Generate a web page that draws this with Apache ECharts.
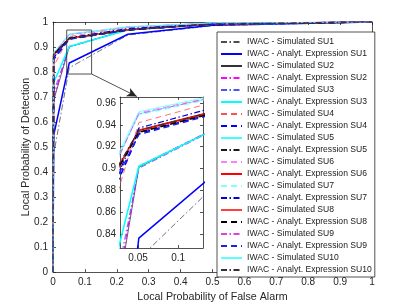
<!DOCTYPE html>
<html><head><meta charset="utf-8">
<script src="https://cdn.jsdelivr.net/npm/echarts@6/dist/echarts.min.js"></script>
<style>html,body{margin:0;padding:0;background:#fff}#c{width:411px;height:308px}</style>
</head><body><div id="c"></div>
<script>
// False alarm probabilities (x) shared by all curves
const pfa = [0, 0.002, 0.051, 0.235, 0.5, 1];
const insetXTicks = [0.05, 0.1];
const insetYTicks = [0.84, 0.86, 0.88, 0.9, 0.92, 0.94, 0.96];
const insetXRange = [0.0275, 0.131];
const insetYRange = [0.827, 0.9655];
// zoom rectangle and arrow (data space of main axes)
const zoomBoxX = [0.043, 0.121, 0.121, 0.043, 0.043];
const zoomBoxY = [0.792, 0.792, 0.968, 0.968, 0.792];
const arrowFrom = [0.121, 0.792];
const arrowTo = [0.263, 0.702];

const seriesNames = [
  'IWAC - Simulated SU1', 'IWAC - Analyt. Expression SU1',
  'IWAC - Simulated SU2', 'IWAC - Analyt. Expression SU2',
  'IWAC - Simulated SU3', 'IWAC - Analyt. Expression SU3',
  'IWAC - Simulated SU4', 'IWAC - Analyt. Expression SU4',
  'IWAC - Simulated SU5', 'IWAC - Analyt. Expression SU5',
  'IWAC - Simulated SU6', 'IWAC - Analyt. Expression SU6',
  'IWAC - Simulated SU7', 'IWAC - Analyt. Expression SU7',
  'IWAC - Simulated SU8', 'IWAC - Analyt. Expression SU8',
  'IWAC - Simulated SU9', 'IWAC - Analyt. Expression SU9',
  'IWAC - Simulated SU10', 'IWAC - Analyt. Expression SU10'
];
// Probability of detection per curve
const simSU1  = [0, 0.470, 0.817, 0.948, 0.985, 1];
const anSU1   = [0, 0.546, 0.836, 0.951, 0.987, 1];
const simSU2  = [0, 0.686, 0.901, 0.970, 0.991, 1];
const anSU2   = [0, 0.700, 0.902, 0.969, 0.991, 1];
const simSU3  = [0, 0.720, 0.900, 0.969, 0.991, 1];
const anSU3   = [0, 0.757, 0.902, 0.968, 0.991, 1];
const simSU4  = [0, 0.823, 0.942, 0.979, 0.995, 1];
const anSU4   = [0, 0.850, 0.932, 0.969, 0.992, 1];
const simSU5  = [0, 0.875, 0.950, 0.980, 0.996, 1];
const anSU5   = [0, 0.872, 0.934, 0.969, 0.992, 1];
const simSU6  = [0, 0.870, 0.951, 0.980, 0.996, 1];
const anSU6   = [0, 0.870, 0.935, 0.969, 0.992, 1];
const simSU7  = [0, 0.875, 0.949, 0.979, 0.996, 1];
const anSU7   = [0, 0.857, 0.937, 0.974, 0.993, 1];
const simSU8  = [0, 0.868, 0.934, 0.968, 0.992, 1];
const anSU8   = [0, 0.870, 0.933, 0.968, 0.992, 1];
const simSU9  = [0, 0.873, 0.950, 0.980, 0.996, 1];
const anSU9   = [0, 0.860, 0.931, 0.968, 0.992, 1];
const simSU10 = [0, 0.878, 0.952, 0.981, 0.996, 1];
const anSU10  = [0, 0.873, 0.935, 0.969, 0.992, 1];
const seriesValues = [simSU1, anSU1, simSU2, anSU2, simSU3, anSU3, simSU4, anSU4, simSU5, anSU5,
  simSU6, anSU6, simSU7, anSU7, simSU8, anSU8, simSU9, anSU9, simSU10, anSU10];

const DD = [6, 2.5, 1.5, 2.5];
const DS = [6, 4];
const styles = [
  {c:'#4d4d4d', w:0.8, t:DD}, {c:'#0000ff', w:1.5, t:'solid'},
  {c:'#333333', w:0.8, t:'solid'}, {c:'#ff00ff', w:1.2, t:DD},
  {c:'#5050ff', w:0.8, t:DD}, {c:'#00ffff', w:1.5, t:'solid'},
  {c:'#ff5050', w:0.8, t:DS}, {c:'#0000ff', w:1.5, t:DS},
  {c:'#40ffff', w:0.8, t:'solid'}, {c:'#1a1a1a', w:1.5, t:DD},
  {c:'#ff80ff', w:1.0, t:DS}, {c:'#ff0000', w:1.5, t:'solid'},
  {c:'#80ffff', w:1.0, t:DS}, {c:'#0000e0', w:1.2, t:DD},
  {c:'#ff4040', w:0.8, t:'solid'}, {c:'#000000', w:1.5, t:DS},
  {c:'#e040e0', w:0.8, t:DD}, {c:'#2020e0', w:1.3, t:DS},
  {c:'#60ffff', w:0.8, t:'solid'}, {c:'#333333', w:1.2, t:DD}
];

const FONT = 'Liberation Sans, Arial, Helvetica, sans-serif';
const AX = '#262626';

function pts(vals){ return pfa.map((x,i)=>[x, vals[i]]); }

const series = [];
seriesNames.forEach((n,i)=>{
  const s = styles[i];
  series.push({type:'line', name:n, xAxisIndex:0, yAxisIndex:0, data:pts(seriesValues[i]),
    symbol:'none', z:2, lineStyle:{color:s.c, width:s.w, type:s.t}, itemStyle:{color:s.c}});
});
seriesNames.forEach((n,i)=>{
  const s = styles[i];
  series.push({type:'line', name:n, xAxisIndex:2, yAxisIndex:2, data:pts(seriesValues[i]),
    symbol:'none', z:6, clip:true, lineStyle:{color:s.c, width:s.w, type:s.t}, itemStyle:{color:s.c}});
});
series.push({type:'line', name:'zoomBox', xAxisIndex:0, yAxisIndex:0, silent:true, z:7,
  data: zoomBoxX.map((x,i)=>[x, zoomBoxY[i]]), symbol:'none',
  lineStyle:{color:AX, width:0.8, type:'solid'},
  markLine:{silent:true, symbol:['none','arrow'], symbolSize:[7,10], label:{show:false},
    lineStyle:{color:AX, width:0.8, type:'solid'},
    data:[[{coord:arrowFrom},{coord:arrowTo}]]}});

function axisCommon(extra){
  return Object.assign({type:'value', splitLine:{show:false},
    axisLine:{show:true, onZero:false, lineStyle:{color:AX, width:0.8}},
    axisTick:{show:true, inside:true, length:3, lineStyle:{color:AX, width:0.8}},
    axisLabel:{color:AX, fontSize:10, fontFamily:FONT, margin:5}}, extra);
}

const option = {
  animation:false,
  backgroundColor:'#fff',
  grid:[
    {left:53, right:39, top:22, bottom:34, z:0},
    {left:120, right:208, top:97, bottom:60, show:true, backgroundColor:'#fff', borderWidth:0, z:5}
  ],
  xAxis:[
    axisCommon({gridIndex:0, min:0, max:1, interval:0.1, position:'bottom',
      name:'Local Probability of False Alarm', nameLocation:'middle', nameGap:18,
      nameTextStyle:{color:AX, fontSize:10.7, fontFamily:FONT}}),
    axisCommon({gridIndex:0, min:0, max:1, interval:0.1, position:'top', axisLabel:{show:false}}),
    axisCommon({gridIndex:1, min:insetXRange[0], max:insetXRange[1], position:'bottom', z:6,
      axisTick:{show:true, inside:true, length:3, customValues:insetXTicks, lineStyle:{color:AX, width:0.8}},
      axisLabel:{color:AX, fontSize:10, fontFamily:FONT, margin:5, customValues:insetXTicks}}),
    axisCommon({gridIndex:1, min:insetXRange[0], max:insetXRange[1], position:'top', z:6,
      axisTick:{show:true, inside:true, length:3, customValues:insetXTicks, lineStyle:{color:AX, width:0.8}},
      axisLabel:{show:false}})
  ],
  yAxis:[
    axisCommon({gridIndex:0, min:0, max:1, interval:0.1, position:'left',
      name:'Local Probability of Detection', nameLocation:'middle', nameGap:21, nameMoveOverlap:false,
      nameTextStyle:{color:AX, fontSize:10.7, fontFamily:FONT}}),
    axisCommon({gridIndex:0, min:0, max:1, interval:0.1, position:'right', axisLabel:{show:false}}),
    axisCommon({gridIndex:1, min:insetYRange[0], max:insetYRange[1], position:'left', z:6,
      axisTick:{show:true, inside:true, length:3, customValues:insetYTicks, lineStyle:{color:AX, width:0.8}},
      axisLabel:{color:AX, fontSize:10, fontFamily:FONT, margin:4, customValues:insetYTicks}}),
    axisCommon({gridIndex:1, min:insetYRange[0], max:insetYRange[1], position:'right', z:6,
      axisTick:{show:true, inside:true, length:3, customValues:insetYTicks, lineStyle:{color:AX, width:0.8}},
      axisLabel:{show:false}})
  ],
  legend:{
    data:seriesNames, orient:'vertical', left:217, top:32, z:10,
    backgroundColor:'#fff', borderColor:AX, borderWidth:0.8, borderRadius:0,
    padding:[4,3,1,3], itemGap:0, itemWidth:21, itemHeight:12, selectedMode:false,
    itemStyle:{opacity:0},
    textStyle:{fontSize:8.6, fontFamily:FONT, color:'#1a1a1a', lineHeight:12}
  },
  series:series
};
const chart = echarts.init(document.getElementById('c'), null, {renderer:'canvas'});
chart.setOption(option);
</script></body></html>
